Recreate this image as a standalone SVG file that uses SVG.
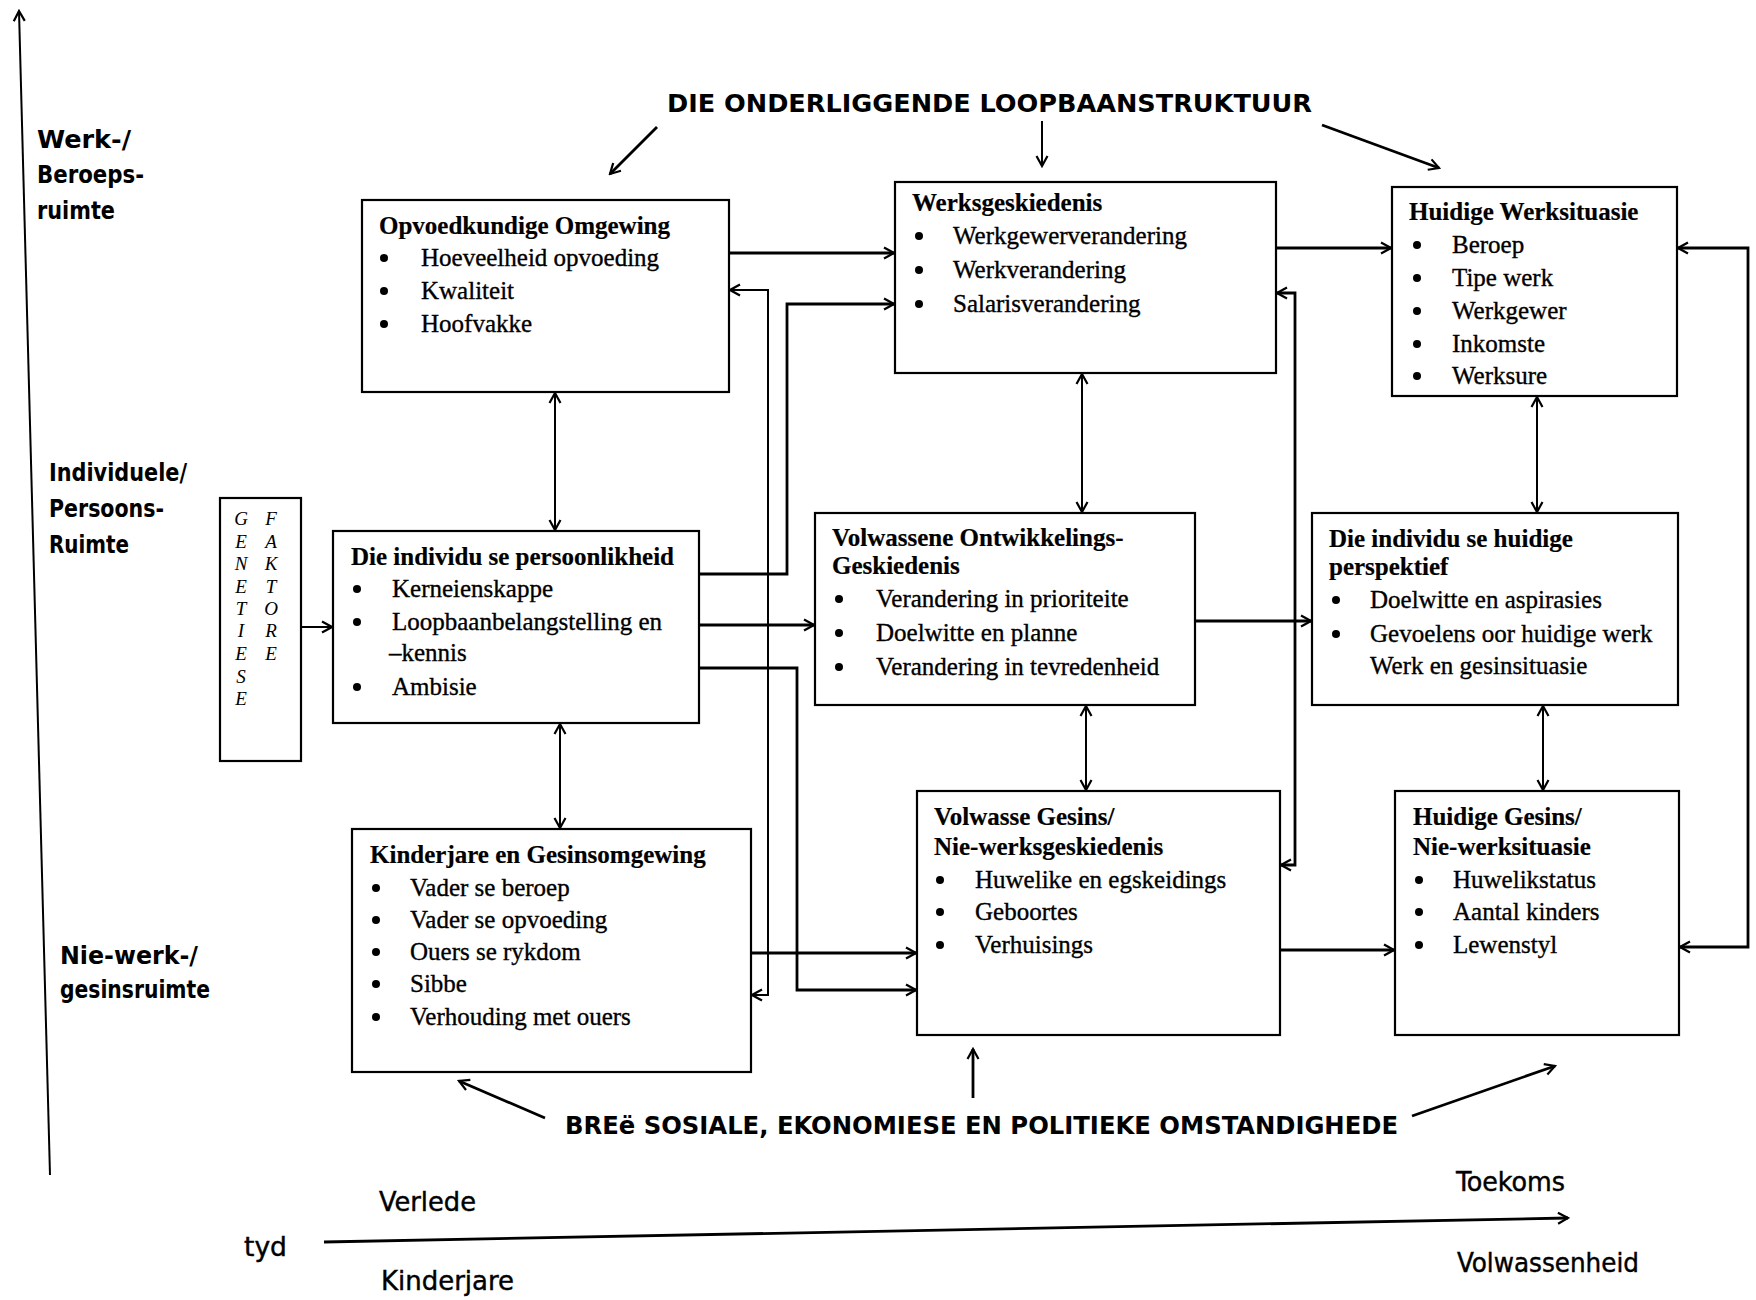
<svg xmlns="http://www.w3.org/2000/svg" width="1756" height="1300" viewBox="0 0 1756 1300">
<style>
.box{fill:#fff;stroke:#000;stroke-width:2.2}
.t{font-family:"Liberation Serif","Times New Roman",serif;font-size:25px;fill:#000;stroke:#000;stroke-width:0.35}
.tb{font-weight:bold;stroke-width:0.2}
.g{font-family:"Liberation Serif",serif;font-size:19px;font-style:italic;fill:#000}
.h{font-family:"DejaVu Sans Condensed","DejaVu Sans",sans-serif;font-weight:bold;font-size:24px;fill:#000}
.hn{font-family:"DejaVu Sans Condensed","DejaVu Sans",sans-serif;font-size:27px;fill:#000;stroke:#000;stroke-width:0.4}
.c{fill:none;stroke:#000;stroke-width:2.8}
.v{fill:none;stroke:#000;stroke-width:2}
.b{fill:#000}
</style>
<defs>
<marker id="a" viewBox="0 0 14 14" refX="12" refY="7" markerWidth="14" markerHeight="14" markerUnits="userSpaceOnUse" orient="auto-start-reverse">
<path d="M2,1.5 L12,7 L2,12.5" fill="none" stroke="#000" stroke-width="2.2"/>
</marker>
</defs>

<g id="axes">
<line x1="50" y1="1175" x2="19" y2="11" class="v" marker-end="url(#a)"/>
<line x1="324" y1="1242" x2="1568" y2="1218" class="c" marker-end="url(#a)"/>
<text class="h" x="37" y="148" textLength="94" lengthAdjust="spacingAndGlyphs">Werk-/</text>
<text class="h" x="37" y="183" textLength="107" lengthAdjust="spacingAndGlyphs">Beroeps-</text>
<text class="h" x="37" y="219" textLength="78" lengthAdjust="spacingAndGlyphs">ruimte</text>
<text class="h" x="49" y="481" textLength="138" lengthAdjust="spacingAndGlyphs">Individuele/</text>
<text class="h" x="49" y="517" textLength="115" lengthAdjust="spacingAndGlyphs">Persoons-</text>
<text class="h" x="49" y="553" textLength="80" lengthAdjust="spacingAndGlyphs">Ruimte</text>
<text class="h" x="60" y="964" textLength="138" lengthAdjust="spacingAndGlyphs">Nie-werk-/</text>
<text class="h" x="60" y="998" textLength="150" lengthAdjust="spacingAndGlyphs">gesinsruimte</text>
<text class="hn" x="244" y="1256" textLength="43" lengthAdjust="spacingAndGlyphs">tyd</text>
<text class="hn" x="379" y="1211" textLength="97" lengthAdjust="spacingAndGlyphs">Verlede</text>
<text class="hn" x="381" y="1290" textLength="133" lengthAdjust="spacingAndGlyphs">Kinderjare</text>
<text class="hn" x="1456" y="1191" textLength="109" lengthAdjust="spacingAndGlyphs">Toekoms</text>
<text class="hn" x="1457" y="1272" textLength="182" lengthAdjust="spacingAndGlyphs">Volwassenheid</text>
</g>

<g id="headings">
<text class="h" x="667" y="112" font-size="26" textLength="645" lengthAdjust="spacingAndGlyphs">DIE ONDERLIGGENDE LOOPBAANSTRUKTUUR</text>
<text class="h" x="565" y="1134" font-size="26" textLength="833" lengthAdjust="spacingAndGlyphs">BREë SOSIALE, EKONOMIESE EN POLITIEKE OMSTANDIGHEDE</text>
</g>

<g id="connectors">
<line x1="657" y1="127" x2="610" y2="174" class="c" marker-end="url(#a)"/>
<line x1="1042" y1="121" x2="1042" y2="166" class="v" marker-end="url(#a)"/>
<line x1="1322" y1="125" x2="1439" y2="168" class="c" marker-end="url(#a)"/>
<line x1="545" y1="1118" x2="459" y2="1081" class="c" marker-end="url(#a)"/>
<line x1="973" y1="1098" x2="973" y2="1049" class="c" marker-end="url(#a)"/>
<line x1="1412" y1="1116" x2="1555" y2="1066" class="c" marker-end="url(#a)"/>

<line x1="301" y1="627" x2="332" y2="627" class="v" marker-end="url(#a)"/>
<line x1="729" y1="253" x2="894" y2="253" class="c" marker-end="url(#a)"/>
<path d="M699,574 H787 V304 H894" class="c" marker-end="url(#a)"/>
<path d="M730,290 H768 V995 H752" class="v" marker-start="url(#a)" marker-end="url(#a)"/>
<line x1="699" y1="625" x2="814" y2="625" class="c" marker-end="url(#a)"/>
<path d="M699,668 H797 V990 H916" class="c" marker-end="url(#a)"/>
<line x1="751" y1="953" x2="916" y2="953" class="c" marker-end="url(#a)"/>
<line x1="1276" y1="248" x2="1391" y2="248" class="c" marker-end="url(#a)"/>
<line x1="1195" y1="621" x2="1311" y2="621" class="c" marker-end="url(#a)"/>
<line x1="1280" y1="950" x2="1394" y2="950" class="c" marker-end="url(#a)"/>
<path d="M1277,293 H1295 V865 H1281" class="c" marker-start="url(#a)" marker-end="url(#a)"/>
<path d="M1678,248 H1748 V947 H1680" class="c" marker-start="url(#a)" marker-end="url(#a)"/>

<line x1="555" y1="393" x2="555" y2="530" class="v" marker-start="url(#a)" marker-end="url(#a)"/>
<line x1="560" y1="724" x2="560" y2="828" class="v" marker-start="url(#a)" marker-end="url(#a)"/>
<line x1="1082" y1="374" x2="1082" y2="512" class="v" marker-start="url(#a)" marker-end="url(#a)"/>
<line x1="1086" y1="706" x2="1086" y2="790" class="v" marker-start="url(#a)" marker-end="url(#a)"/>
<line x1="1537" y1="397" x2="1537" y2="512" class="v" marker-start="url(#a)" marker-end="url(#a)"/>
<line x1="1543" y1="706" x2="1543" y2="790" class="v" marker-start="url(#a)" marker-end="url(#a)"/>
</g>

<g id="genetiese">
<rect class="box" x="220" y="498" width="81" height="263"/>
<g class="g" text-anchor="middle">
<text x="241" y="525">G</text><text x="241" y="548">E</text><text x="241" y="570">N</text><text x="241" y="593">E</text><text x="241" y="615">T</text><text x="241" y="637">I</text><text x="241" y="660">E</text><text x="241" y="683">S</text><text x="241" y="705">E</text>
<text x="271" y="525">F</text><text x="271" y="548">A</text><text x="271" y="570">K</text><text x="271" y="593">T</text><text x="271" y="615">O</text><text x="271" y="637">R</text><text x="271" y="660">E</text>
</g>
</g>

<g id="opvoedkundige">
<rect class="box" x="362" y="200" width="367" height="192"/>
<text class="t tb" x="379" y="234">Opvoedkundige Omgewing</text>
<circle class="b" cx="384" cy="258" r="4"/><text class="t" x="421" y="266">Hoeveelheid opvoeding</text>
<circle class="b" cx="384" cy="291" r="4"/><text class="t" x="421" y="299">Kwaliteit</text>
<circle class="b" cx="384" cy="324" r="4"/><text class="t" x="421" y="332">Hoofvakke</text>
</g>

<g id="werksgeskiedenis">
<rect class="box" x="895" y="182" width="381" height="191"/>
<text class="t tb" x="912" y="211">Werksgeskiedenis</text>
<circle class="b" cx="919" cy="236" r="4"/><text class="t" x="953" y="244">Werkgewerverandering</text>
<circle class="b" cx="919" cy="270" r="4"/><text class="t" x="953" y="278">Werkverandering</text>
<circle class="b" cx="919" cy="304" r="4"/><text class="t" x="953" y="312">Salarisverandering</text>
</g>

<g id="huidige-werk">
<rect class="box" x="1392" y="187" width="285" height="209"/>
<text class="t tb" x="1409" y="220">Huidige Werksituasie</text>
<circle class="b" cx="1417" cy="245" r="4"/><text class="t" x="1452" y="253">Beroep</text>
<circle class="b" cx="1417" cy="278" r="4"/><text class="t" x="1452" y="286">Tipe werk</text>
<circle class="b" cx="1417" cy="311" r="4"/><text class="t" x="1452" y="319">Werkgewer</text>
<circle class="b" cx="1417" cy="344" r="4"/><text class="t" x="1452" y="352">Inkomste</text>
<circle class="b" cx="1417" cy="376" r="4"/><text class="t" x="1452" y="384">Werksure</text>
</g>

<g id="persoonlikheid">
<rect class="box" x="333" y="531" width="366" height="192"/>
<text class="t tb" x="351" y="565">Die individu se persoonlikheid</text>
<circle class="b" cx="357" cy="589" r="4"/><text class="t" x="392" y="597">Kerneienskappe</text>
<circle class="b" cx="357" cy="622" r="4"/><text class="t" x="392" y="630">Loopbaanbelangstelling en</text>
<text class="t" x="389" y="661">–kennis</text>
<circle class="b" cx="357" cy="687" r="4"/><text class="t" x="392" y="695">Ambisie</text>
</g>

<g id="ontwikkeling">
<rect class="box" x="815" y="513" width="380" height="192"/>
<text class="t tb" x="832" y="546">Volwassene Ontwikkelings-</text>
<text class="t tb" x="832" y="574">Geskiedenis</text>
<circle class="b" cx="839" cy="599" r="4"/><text class="t" x="876" y="607">Verandering in prioriteite</text>
<circle class="b" cx="839" cy="633" r="4"/><text class="t" x="876" y="641">Doelwitte en planne</text>
<circle class="b" cx="839" cy="667" r="4"/><text class="t" x="876" y="675">Verandering in tevredenheid</text>
</g>

<g id="perspektief">
<rect class="box" x="1312" y="513" width="366" height="192"/>
<text class="t tb" x="1329" y="547">Die individu se huidige</text>
<text class="t tb" x="1329" y="575">perspektief</text>
<circle class="b" cx="1336" cy="600" r="4"/><text class="t" x="1370" y="608">Doelwitte en aspirasies</text>
<circle class="b" cx="1336" cy="634" r="4"/><text class="t" x="1370" y="642">Gevoelens oor huidige werk</text>
<text class="t" x="1370" y="674">Werk en gesinsituasie</text>
</g>

<g id="kinderjare">
<rect class="box" x="352" y="829" width="399" height="243"/>
<text class="t tb" x="370" y="863">Kinderjare en Gesinsomgewing</text>
<circle class="b" cx="376" cy="888" r="4"/><text class="t" x="410" y="896">Vader se beroep</text>
<circle class="b" cx="376" cy="920" r="4"/><text class="t" x="410" y="928">Vader se opvoeding</text>
<circle class="b" cx="376" cy="952" r="4"/><text class="t" x="410" y="960">Ouers se rykdom</text>
<circle class="b" cx="376" cy="984" r="4"/><text class="t" x="410" y="992">Sibbe</text>
<circle class="b" cx="376" cy="1017" r="4"/><text class="t" x="410" y="1025">Verhouding met ouers</text>
</g>

<g id="volwasse-gesins">
<rect class="box" x="917" y="791" width="363" height="244"/>
<text class="t tb" x="934" y="825">Volwasse Gesins/</text>
<text class="t tb" x="934" y="855">Nie-werksgeskiedenis</text>
<circle class="b" cx="940" cy="880" r="4"/><text class="t" x="975" y="888">Huwelike en egskeidings</text>
<circle class="b" cx="940" cy="912" r="4"/><text class="t" x="975" y="920">Geboortes</text>
<circle class="b" cx="940" cy="945" r="4"/><text class="t" x="975" y="953">Verhuisings</text>
</g>

<g id="huidige-gesins">
<rect class="box" x="1395" y="791" width="284" height="244"/>
<text class="t tb" x="1413" y="825">Huidige Gesins/</text>
<text class="t tb" x="1413" y="855">Nie-werksituasie</text>
<circle class="b" cx="1419" cy="880" r="4"/><text class="t" x="1453" y="888">Huwelikstatus</text>
<circle class="b" cx="1419" cy="912" r="4"/><text class="t" x="1453" y="920">Aantal kinders</text>
<circle class="b" cx="1419" cy="945" r="4"/><text class="t" x="1453" y="953">Lewenstyl</text>
</g>
</svg>
